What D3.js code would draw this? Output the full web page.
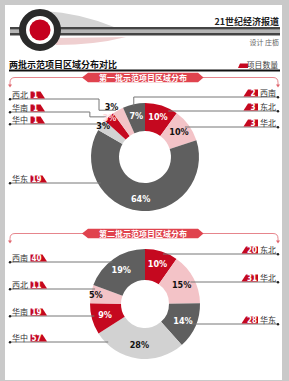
<!DOCTYPE html>
<html lang="zh">
<head>
<meta charset="UTF-8">
<title>两批示范项目区域分布对比</title>
<script src="https://d3js.org/d3.v7.min.js"></script>
<style>
  body { margin: 0; padding: 0; background: #c9c9c9; }
  svg { display: block; }
  .cjk { font-family: "Noto Sans CJK SC", sans-serif; }
  .num { font-family: "Liberation Sans Narrow", "DejaVu Sans Condensed", sans-serif; font-weight: bold; }
</style>
</head>
<body>
<div id="chart"></div>
<script>
// data
var regions = ["东北", "华北", "华东", "华中", "华南", "西北", "西南"];
var batch1 = [3, 3, 19, 1, 1, 1, 2];
var batch2 = [20, 31, 28, 57, 19, 11, 40];
var pct1 = ["10%", "10%", "64%", "3%", "3%", "3%", "7%"];
var pct2 = ["10%", "15%", "14%", "28%", "9%", "5%", "19%"];

var w = 289, h = 381;
var red = "#c5081f", pink = "#f3c3c7", dark = "#5f5f5f", light = "#d2d2d2";
var colors = [red, pink, dark, light, red, pink, dark];
var textColors = ["#fff", "#111", "#fff", "#111", "#fff", "#111", "#fff"];

var svg = d3.select("#chart").append("svg")
    .attr("width", w).attr("height", h);

svg.append("rect").attr("width", w).attr("height", h).attr("fill", "#c9c9c9");
svg.append("rect").attr("x", 5).attr("y", 5).attr("width", 277).attr("height", 375).attr("fill", "#fff");

// ---- header ----
var head = svg.append("g");
head.append("path").attr("d", "M44 11 Q80 13 114 27 L58 27 Q54 17 44 14 Z").attr("fill", "#d4d4d4");
head.append("path").attr("d", "M52 38 L126 37 Q95 45 56 45 Z").attr("fill", "#efcfd0");
head.append("rect").attr("x", 10).attr("y", 29.5).attr("width", 270).attr("height", 3.5).attr("fill", "#b5b5b5");
head.append("rect").attr("x", 10).attr("y", 27).attr("width", 270).attr("height", 2.5).attr("fill", "#444");
head.append("rect").attr("x", 10).attr("y", 33).attr("width", 270).attr("height", 2.5).attr("fill", "#444");
head.append("circle").attr("cx", 40).attr("cy", 30).attr("r", 17.5)
    .attr("fill", "#fff").attr("stroke", "#2a2a2a").attr("stroke-width", 7);
head.append("circle").attr("cx", 40).attr("cy", 30).attr("r", 10.5).attr("fill", "#c5001e");

head.append("text").attr("class", "cjk").attr("x", 279).attr("y", 24.5)
    .attr("text-anchor", "end").attr("font-size", 9).attr("font-weight", "bold")
    .attr("fill", "#222").text("21世纪经济报道");
head.append("text").attr("class", "cjk").attr("x", 279).attr("y", 45)
    .attr("text-anchor", "end").attr("font-size", 7).attr("fill", "#666").text("设计 庄枥");

head.append("text").attr("class", "cjk").attr("x", 9).attr("y", 67.5)
    .attr("font-size", 9).attr("font-weight", "bold").attr("fill", "#111")
    .text("两批示范项目区域分布对比");
head.append("rect").attr("x", 9).attr("y", 69.5).attr("width", 271).attr("height", 2).attr("fill", "#111");
head.append("path").attr("d", "M240 63.5 L248 63.5 L248 68 L238 68 Z").attr("fill", red);
head.append("text").attr("class", "cjk").attr("x", 278).attr("y", 68)
    .attr("text-anchor", "end").attr("font-size", 7.8).attr("fill", "#444").text("项目数量");

// ---- one donut block ----
function drawBlock(cfg) {
  var g = svg.append("g");
  var total = d3.sum(cfg.values);

  // banner + connectors
  var by = cfg.bannerY;
  var conn = d3.path();
  conn.moveTo(85, by); conn.lineTo(15, by);
  conn.quadraticCurveTo(10, by, 10, by + 5); conn.lineTo(10, by + 8);
  conn.moveTo(200, by); conn.lineTo(273, by);
  conn.quadraticCurveTo(278, by, 278, by + 5); conn.lineTo(278, by + 8);
  g.append("path").attr("d", conn.toString()).attr("fill", "none")
      .attr("stroke", "#e0666e").attr("stroke-width", 0.8);
  [10, 278].forEach(function(x) {
    g.append("path").attr("d", "M" + (x - 2) + " " + (by + 7) + " L" + (x + 2) + " " + (by + 7) + " L" + x + " " + (by + 10) + " Z")
        .attr("fill", "#e0666e");
  });
  g.append("path")
      .attr("d", "M82 " + by + " L88 " + (by - 4.7) + " L198 " + (by - 4.7) + " L203.5 " + by +
                 " L198 " + (by + 4.7) + " L88 " + (by + 4.7) + " Z")
      .attr("fill", "#e0434e");
  g.append("text").attr("class", "cjk").attr("x", 143).attr("y", by + 3)
      .attr("text-anchor", "middle").attr("font-size", 8).attr("font-weight", "bold")
      .attr("fill", "#fff").text(cfg.title);

  var pie = d3.pie().sort(null).value(function(d) { return d; });
  var arcs = pie(cfg.values);
  var arc = d3.arc().innerRadius(cfg.inner).outerRadius(cfg.outer);
  var dg = g.append("g").attr("transform", "translate(" + cfg.cx + "," + cfg.cy + ")");

  dg.selectAll("path.seg").data(arcs).enter().append("path")
      .attr("class", "seg")
      .attr("d", arc)
      .attr("fill", function(d, i) { return colors[i]; });

  // connectors from labels to segments
  var lineG = g.append("g");
  arcs.forEach(function(a, i) {
    var side = cfg.sides[i], ly = cfg.lineY[i];
    var mid = (a.startAngle + a.endAngle) / 2;
    var tx = cfg.cx + cfg.outer * Math.sin(mid), ty = cfg.cy - cfg.outer * Math.cos(mid);
    var x0 = side === "L" ? 10 : 278;
    var p = d3.path();
    p.moveTo(x0, ly);
    var dy = ly - cfg.cy, hit = null;
    if (Math.abs(dy) < cfg.outer) {
      var dx = Math.sqrt(cfg.outer * cfg.outer - dy * dy) * (side === "L" ? -1 : 1);
      var ang = Math.atan2(dx, -dy); if (ang < 0) ang += 2 * Math.PI;
      if (ang >= a.startAngle && ang <= a.endAngle) hit = cfg.cx + dx + (side === "L" ? 3 : -5);
    }
    if (hit !== null) {
      p.lineTo(hit, ly);
    } else if (side === "R") {
      p.lineTo(tx, ly); p.lineTo(tx, ty + 1.5);
    } else {
      var ex = tx - 19;
      p.lineTo(ex, ly); p.lineTo(ex, ty); p.lineTo(tx - 2, ty);
    }
    lineG.append("path").attr("d", p.toString()).attr("fill", "none")
        .attr("stroke", "#777").attr("stroke-width", 1);
    lineG.append("circle").attr("cx", x0).attr("cy", ly + 0.3).attr("r", 1.2).attr("fill", "#222");

    // name + badge
    var val = cfg.values[i];
    var bw = String(val).length > 1 ? 12 : 10;
    if (side === "L") {
      lineG.append("text").attr("class", "cjk").attr("x", 12).attr("y", ly - 1.2)
          .attr("font-size", 8).attr("fill", "#333").text(regions[i]);
      var bx = 30.5;
      lineG.append("path")
          .attr("d", "M" + bx + " " + (ly - 7.5) + " L" + (bx + bw) + " " + (ly - 7.5) + " L" + (bx + bw + 4.5) + " " + (ly - 0.5) + " L" + bx + " " + (ly - 0.5) + " Z")
          .attr("fill", red);
      lineG.append("text").attr("class", "num").attr("x", bx + bw / 2).attr("y", ly - 1.3)
          .attr("text-anchor", "middle").attr("font-size", 8).attr("fill", "#fff").text(val);
    } else {
      lineG.append("text").attr("class", "cjk").attr("x", 276).attr("y", ly - 1.2)
          .attr("text-anchor", "end").attr("font-size", 8).attr("fill", "#333").text(regions[i]);
      var rx = 258;
      lineG.append("path")
          .attr("d", "M" + (rx - bw - 4.5) + " " + (ly - 0.5) + " L" + (rx - bw) + " " + (ly - 7.5) + " L" + rx + " " + (ly - 7.5) + " L" + rx + " " + (ly - 0.5) + " Z")
          .attr("fill", red);
      lineG.append("text").attr("class", "num").attr("x", rx - bw / 2).attr("y", ly - 1.3)
          .attr("text-anchor", "middle").attr("font-size", 8).attr("fill", "#fff").text(val);
    }
  });

  // percent labels
  var midR = (cfg.inner + cfg.outer) / 2 + 2;
  var lg = g.append("g").attr("transform", "translate(" + cfg.cx + "," + cfg.cy + ")");
  arcs.forEach(function(a, i) {
    var share = a.value / total;
    var r = share < 0.04 ? cfg.outer - 1 : share < 0.06 ? cfg.outer - 5 : midR;
    var m = (a.startAngle + a.endAngle) / 2;
    var small = share < 0.04;
    var nudge = (cfg.nudge && cfg.nudge[i]) || [0, 0];
    lg.append("text").attr("class", "num")
        .attr("x", r * Math.sin(m) + nudge[0]).attr("y", -r * Math.cos(m) + 3 + nudge[1])
        .attr("text-anchor", "middle").attr("font-size", 9)
        .attr("fill", small && colors[i] === red ? "#ffd9dc" : textColors[i])
        .text(cfg.pct[i]);
  });
}

drawBlock({
  title: "第一批示范项目区域分布", bannerY: 77.5,
  values: batch1, pct: pct1,
  cx: 145, cy: 157, outer: 54, inner: 26,
  sides: ["R", "R", "L", "L", "L", "L", "R"],
  lineY: [111, 127, 183, 124, 112, 99, 97],
  nudge: { 3: [1, 0], 5: [-7, -4] }
});

drawBlock({
  title: "第二批示范项目区域分布", bannerY: 233.5,
  values: batch2, pct: pct2,
  cx: 145, cy: 304, outer: 55, inner: 24,
  sides: ["R", "R", "R", "L", "L", "L", "L"],
  lineY: [254, 282, 324, 342, 316, 289, 262]
});
</script>
</body>
</html>
